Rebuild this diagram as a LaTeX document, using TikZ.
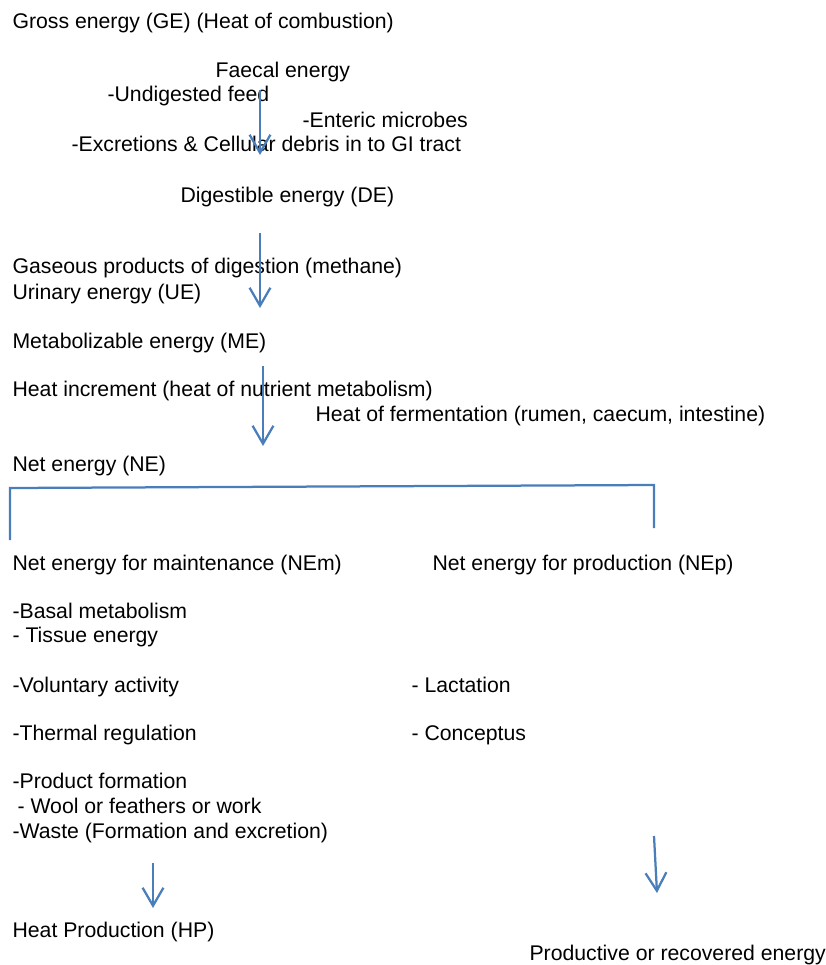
\documentclass[tikz,border=0pt]{standalone}
\usepackage{fontspec}
\setmainfont{Liberation Sans}
\usetikzlibrary{arrows.meta}
\definecolor{flowblue}{HTML}{4A7EBB}

\begin{document}
\begin{tikzpicture}[x=0.025cm, y=-0.025cm, thick]

		\tikzstyle{lbl}=[anchor=base west, inner sep=0pt, font=\fontsize{15.1pt}{18pt}\selectfont, text=black]
		\tikzstyle{flow}=[-{Straight Barb[length=4.5mm, width=5.2mm]}, flowblue, line width=1.6pt]
		\tikzstyle{split}=[flowblue, line width=1.6pt]

		\useasboundingbox (0,0) rectangle (826,965);

		\node[lbl] (ge) at (12,29)  {Gross energy (GE) (Heat of combustion)};
		\node[lbl] (fe) at (215,78) {Faecal energy};
		\node[lbl] (fe1) at (107,102) {-Undigested feed};
		\node[lbl] (fe2) at (302,128) {-Enteric microbes};
		\node[lbl] (fe3) at (71,152) {-Excretions \& Cellular debris in to GI tract};
		\node[lbl] (de) at (180,202) {Digestible energy (DE)};

		\node[lbl] (gp) at (12,273) {Gaseous products of digestion (methane)};
		\node[lbl] (ue) at (12,299) {Urinary energy (UE)};
		\node[lbl] (me) at (12,348) {Metabolizable energy (ME)};

		\node[lbl] (hi) at (12,396) {Heat increment (heat of nutrient metabolism)};
		\node[lbl] (hf) at (315,421) {Heat of fermentation (rumen, caecum, intestine)};
		\node[lbl] (ne) at (12,471) {Net energy (NE)};

		\node[lbl] (nem) at (12,570)  {Net energy for maintenance (NEm)};
		\node[lbl] (nep) at (432,570) {Net energy for production (NEp)};

		\node[lbl] (nem1) at (12,618) {-Basal metabolism};
		\node[lbl] (nem2) at (12,642) {- Tissue energy};
		\node[lbl] (nem3) at (12,692) {-Voluntary activity};
		\node[lbl] (nem4) at (12,740) {-Thermal regulation};
		\node[lbl] (nem5) at (12,788) {-Product formation};
		\node[lbl] (nem6) at (17,813) {- Wool or feathers or work};
		\node[lbl] (nem7) at (12,838) {-Waste (Formation and excretion)};

		\node[lbl] (nep1) at (411,692) {- Lactation};
		\node[lbl] (nep2) at (411,740) {- Conceptus};

		\node[lbl] (hp) at (12,937)  {Heat Production (HP)};
		\node[lbl] (re) at (529,960) {Productive or recovered energy};

		% arrow ends
		\coordinate (a1) at (260,90);  \coordinate (b1) at (260,155);
		\coordinate (a2) at (260,233); \coordinate (b2) at (260,308);
		\coordinate (a3) at (263,366); \coordinate (b3) at (263,446);
		\coordinate (a4) at (153,863); \coordinate (b4) at (153,908);
		\coordinate (a5) at (654,836); \coordinate (b5) at (657,893);

		\draw[flow] (a1) -- (b1);
		\draw[flow] (a2) -- (b2);
		\draw[flow] (a3) -- (b3);
		\draw[flow] (a4) -- (b4);
		\draw[flow] (a5) -- (b5);

		% split of net energy
		\coordinate (sl) at (10,540);  \coordinate (tl) at (10,488);
		\coordinate (tr) at (654,485); \coordinate (sr) at (654,528);
		\draw[split] (sl) -- (tl) -- (tr) -- (sr);

\end{tikzpicture}
\end{document}
